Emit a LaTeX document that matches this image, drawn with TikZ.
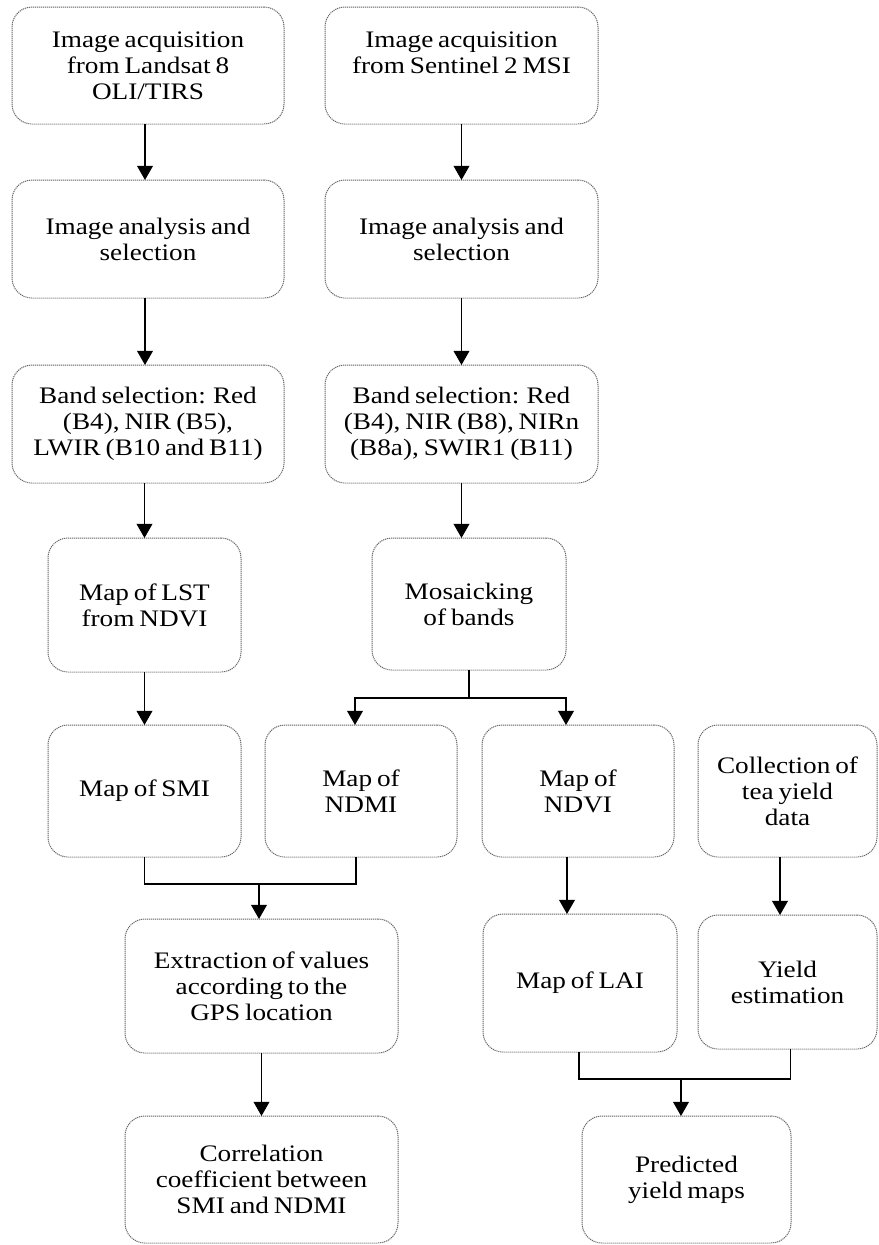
\documentclass[tikz,border=0pt]{standalone}
\usepackage{fontspec}
\setmainfont{Liberation Serif}[FakeStretch=1.15,WordSpace=0.72]
\usetikzlibrary{arrows.meta,calc}
\newcommand\mkbox[6]{\node[box, minimum width={(#4-#2)*0.6pt}, minimum height={(#5-#3)*0.6pt}] (#1) at ({(#2+#4)/2},{(#3+#5)/2}) {#6};}
\begin{document}
\begin{tikzpicture}[x=0.6pt,y=-0.6pt,
  box/.style={draw=black!60, line width=0.6pt, dash pattern=on 0.7pt off 0.5pt, rounded corners=12pt, align=center, inner sep=0pt, outer sep=0pt, font=\fontsize{14.2}{15.5}\selectfont},
  arr/.style={line width=0.75pt, -{Triangle[width=9.5pt,length=8.5pt]}},
  ln/.style={line width=0.75pt}]
\useasboundingbox (0,0) rectangle (878,1245);
\mkbox{b1}{12}{7}{284}{124}{Image acquisition\\from Landsat 8\\OLI/TIRS}
\mkbox{b2}{325}{7}{598}{124}{Image acquisition\\from Sentinel 2 MSI\\\phantom{X}}
\mkbox{b3}{12}{180}{284}{298}{Image analysis and\\selection}
\mkbox{b4}{325}{180}{598}{298}{Image analysis and\\selection}
\mkbox{b5}{12}{365}{284}{483}{Band selection: Red\\(B4), NIR (B5),\\LWIR (B10 and B11)}
\mkbox{b6}{325}{365}{598}{483}{Band selection: Red\\(B4), NIR (B8), NIRn\\(B8a), SWIR1 (B11)}
\mkbox{lst}{48}{538}{241}{672}{Map of LST\\from NDVI}
\mkbox{mos}{372}{538}{566}{670}{Mosaicking\\of bands}
\mkbox{smi}{48}{725}{241}{857}{Map of SMI}
\mkbox{ndmi}{265}{725}{457}{857}{Map of\\NDMI}
\mkbox{ndvi}{482}{725}{674}{857}{Map of\\NDVI}
\mkbox{coll}{698}{725}{877}{857}{Collection of\\tea yield\\data}
\mkbox{ext}{125}{919}{398}{1053}{Extraction of values\\according to the\\GPS location}
\mkbox{lai}{483}{914}{677}{1052}{Map of LAI}
\mkbox{yld}{698}{915}{877}{1049}{Yield\\estimation}
\mkbox{cor}{125}{1116}{398}{1243}{Correlation\\coefficient between\\SMI and NDMI}
\mkbox{pred}{582}{1116}{791}{1243}{Predicted\\yield maps}
% straight arrows
\draw[arr] ([xshift=-1.8pt]b1.south) -- ([xshift=-1.8pt]b3.north);
\draw[arr] (b2.south) -- (b4.north);
\draw[arr] ([xshift=-1.8pt]b3.south) -- ([xshift=-1.8pt]b5.north);
\draw[arr] (b4.south) -- (b6.north);
\draw[arr] (lst.north |- b5.south) -- (lst.north);
\draw[arr] (b6.south) -- (b6.south |- mos.north);
\draw[arr] (lst.south) -- (lst.south |- smi.north);
\draw[arr] (ext.south) -- (cor.north);
\draw[arr] ([xshift=-6.6pt]ndvi.south) -- ([xshift=-6.6pt]ndvi.south |- lai.north);
\draw[arr] ([xshift=-4.5pt]coll.south) -- ([xshift=-4.5pt]coll.south |- yld.north);
% split from mosaicking
\draw[ln] (mos.south) -- ++(0,28) coordinate (sp);
\draw[arr] (sp) -| ([xshift=-3.6pt]ndmi.north);
\draw[arr] (sp) -| ([xshift=-7.2pt]ndvi.north);
% join SMI + NDMI
\draw[ln] (smi.south) -- ++(0,27) coordinate (j1) -| ([xshift=-3pt]ndmi.south);
\draw[arr] ([xshift=-1.5pt]ext.north |- j1) -- ([xshift=-1.5pt]ext.north);
% join LAI + Yield
\draw[ln] ([xshift=-0.6pt]lai.south) -- ++(0,27) coordinate (j2) -| ([xshift=2pt]yld.south);
\draw[arr] ([xshift=-3.3pt]pred.north |- j2) -- ([xshift=-3.3pt]pred.north);
\end{tikzpicture}
\end{document}
